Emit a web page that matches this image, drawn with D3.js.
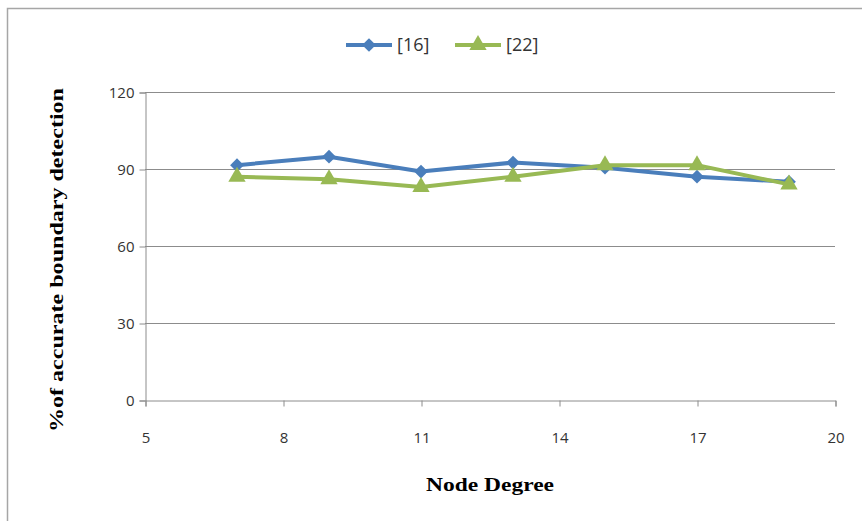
<!DOCTYPE html>
<html>
<head>
<meta charset="utf-8">
<script src="https://cdn.jsdelivr.net/npm/d3@7"></script>
<style>
  html, body { margin: 0; padding: 0; background: #fff; }
  svg { display: block; }
</style>
</head>
<body>
<svg id="chart" width="862" height="521"></svg>
<script>
// Node degree on the x axis, detection accuracy (%) for each method
const nodeDegree = [7, 9, 11, 13, 15, 17, 19];
const series16 = [91.5, 94.8, 89, 92.5, 90.5, 87, 85];
const series22 = [87, 86, 83, 87, 91.5, 91.5, 84];
const seriesNames = ["[16]", "[22]"];
const xTicks = [5, 8, 11, 14, 17, 20];
const yTicks = [0, 30, 60, 90, 120];

(function () {
const svg = d3.select("#chart");
const W = 862, H = 521;

// outer frame
svg.append("rect")
  .attr("x", 7.5).attr("y", 8.5)
  .attr("width", W + 20).attr("height", H + 20)
  .attr("fill", "#fff")
  .attr("stroke", "#a6a6a6").attr("stroke-width", 1.5);

const plotL = 145, plotR = 835, plotT = 92, plotB = 400;
const x = d3.scaleLinear().domain([5, 20]).range([plotL, plotR]);
const y = d3.scaleLinear().domain([0, 120]).range([plotB, plotT]);

// horizontal gridlines
svg.append("g")
  .selectAll("line")
  .data(yTicks.filter(d => d > 0))
  .join("line")
  .attr("x1", plotL).attr("x2", plotR)
  .attr("y1", d => y(d) + 0.5).attr("y2", d => y(d) + 0.5)
  .attr("stroke", "#8c8c8c").attr("stroke-width", 1);

const tickFont = "'Open Sans', 'Noto Sans', sans-serif";

// y axis
const yAxis = svg.append("g")
  .attr("transform", `translate(${plotL + 0.5},0.5)`)
  .call(d3.axisLeft(y).tickValues(yTicks).tickSize(6).tickPadding(5));
yAxis.select(".domain").attr("stroke", "#8c8c8c");
yAxis.selectAll(".tick line").attr("stroke", "#8c8c8c");
yAxis.selectAll(".tick text")
  .attr("fill", "#333")
  .style("font-family", tickFont)
  .style("font-size", "15px");

// x axis
const xAxis = svg.append("g")
  .attr("transform", `translate(0.5,${plotB + 0.5})`)
  .call(d3.axisBottom(x).tickValues(xTicks).tickSize(6).tickSizeOuter(6).tickPadding(26));
xAxis.select(".domain").attr("stroke", "#8c8c8c");
xAxis.selectAll(".tick line").attr("stroke", "#8c8c8c");
xAxis.selectAll(".tick text")
  .attr("fill", "#333")
  .style("font-family", tickFont)
  .style("font-size", "15px");

// axis titles
svg.append("text")
  .attr("x", 490).attr("y", 491)
  .attr("text-anchor", "middle")
  .attr("textLength", 128).attr("lengthAdjust", "spacingAndGlyphs")
  .style("font-family", "'Liberation Serif', 'DejaVu Serif', serif")
  .style("font-weight", "bold")
  .style("font-size", "19px")
  .attr("fill", "#000")
  .text("Node Degree");

svg.append("text")
  .attr("transform", "translate(63,260) rotate(-90)")
  .attr("text-anchor", "middle")
  .attr("textLength", 344).attr("lengthAdjust", "spacingAndGlyphs")
  .style("font-family", "'Liberation Serif', 'DejaVu Serif', serif")
  .style("font-weight", "bold")
  .style("font-size", "19px")
  .attr("fill", "#000")
  .text("%of accurate boundary detection");

const blue = "#4a7ebb", green = "#98b954";
const line = d3.line().x(d => x(d[0])).y(d => y(d[1]));
const diamond = d3.symbol().type(d3.symbolDiamond2).size(120);
const triangle = d3.symbol().type(d3.symbolTriangle).size(130);

function drawSeries(vals, color, symbol) {
  const pts = nodeDegree.map((d, i) => [d, vals[i]]);
  svg.append("path")
    .datum(pts)
    .attr("d", line)
    .attr("fill", "none")
    .attr("stroke", color)
    .attr("stroke-width", 4)
    .attr("stroke-linejoin", "round");
  svg.append("g")
    .selectAll("path")
    .data(pts)
    .join("path")
    .attr("transform", d => `translate(${x(d[0])},${y(d[1])})`)
    .attr("d", symbol)
    .attr("fill", color);
}
drawSeries(series16, blue, diamond);
drawSeries(series22, green, triangle);

// legend
const legend = [
  { name: seriesNames[0], color: blue, symbol: diamond, x0: 346 },
  { name: seriesNames[1], color: green, symbol: triangle, x0: 455 }
];
const lg = svg.append("g");
legend.forEach(l => {
  lg.append("line")
    .attr("x1", l.x0).attr("x2", l.x0 + 46)
    .attr("y1", 45).attr("y2", 45)
    .attr("stroke", l.color).attr("stroke-width", 4);
  lg.append("path")
    .attr("transform", `translate(${l.x0 + 23},45)`)
    .attr("d", l.symbol)
    .attr("fill", l.color);
  lg.append("text")
    .attr("x", l.x0 + 51).attr("y", 51)
    .attr("fill", "#333")
    .style("font-family", tickFont)
    .style("font-size", "18px")
    .text(l.name);
});
})();
</script>
</body>
</html>
